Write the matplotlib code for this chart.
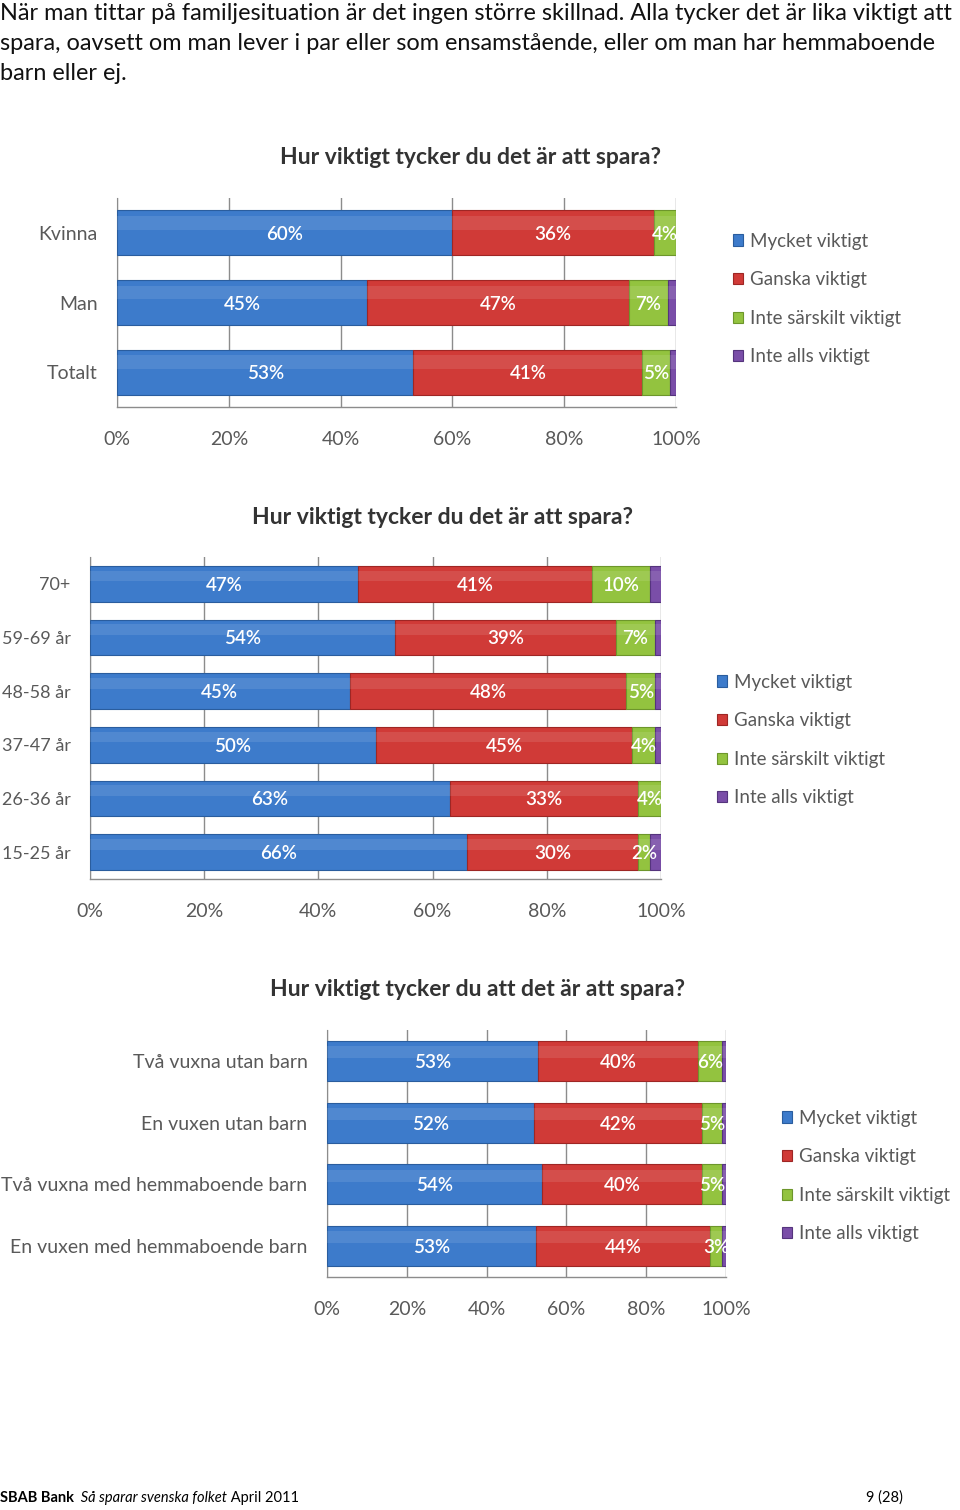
import matplotlib
matplotlib.use("Agg")
import matplotlib.pyplot as plt
import numpy as np

W, H = 960, 1510

# --- data -----------------------------------------------------------------
series = ["Mycket viktigt", "Ganska viktigt", "Inte särskilt viktigt", "Inte alls viktigt"]
colors = ["#3d7bcb", "#d03a37", "#93c33f", "#7a4ea8"]
edges = ["#2a5d9e", "#9e2624", "#6d962b", "#55347d"]

kon_cats = ["Kvinna", "Man", "Totalt"]
kon_mycket = [60, 45, 53]
kon_ganska = [36, 47, 41]
kon_inte_sarskilt = [4, 7, 5]
kon_inte_alls = [0, 1.5, 1]

alder_cats = ["70+", "59-69 år", "48-58 år", "37-47 år", "26-36 år", "15-25 år"]
alder_mycket = [47, 54, 45, 50, 63, 66]
alder_ganska = [41, 39, 48, 45, 33, 30]
alder_inte_sarskilt = [10, 7, 5, 4, 4, 2]
alder_inte_alls = [2, 1, 1, 1, 0, 2]

hushall_cats = ["Två vuxna utan barn", "En vuxen utan barn",
                "Två vuxna med hemmaboende barn", "En vuxen med hemmaboende barn"]
hushall_mycket = [53, 52, 54, 53]
hushall_ganska = [40, 42, 40, 44]
hushall_inte_sarskilt = [6, 5, 5, 3]
hushall_inte_alls = [1, 1, 1, 1]

ticks = [0, 20, 40, 60, 80, 100]
tick_labels = ["0%", "20%", "40%", "60%", "80%", "100%"]

title1 = "Hur viktigt tycker du det är att spara?"
title3 = "Hur viktigt tycker du att det är att spara?"

intro = ["När man tittar på familjesituation är det ingen större skillnad. Alla tycker det är lika viktigt att",
         "spara, oavsett om man lever i par eller som ensamstående, eller om man har hemmaboende",
         "barn eller ej."]

FONT = "Lato"
GREY = "#595959"


def px_axes(fig, left, top, right, bottom):
    return fig.add_axes([left / W, 1 - bottom / H, (right - left) / W, (bottom - top) / H])


def stacked_chart(fig, box, cats, rows, bar_h, title, title_xy, legend_xy, cat_size=14):
    ax = px_axes(fig, *box)
    data = np.array(rows, dtype=float).T          # cats x series
    data = data / data.sum(axis=1, keepdims=True) * 100
    y = np.arange(len(cats))
    left = np.zeros(len(cats))
    handles = []
    for k in range(data.shape[1]):
        vals = data[:, k]
        b = ax.barh(y, vals, left=left, height=bar_h, color=colors[k],
                    edgecolor=edges[k], linewidth=0.8, zorder=3, label=series[k])
        # soft highlight on top half, like the original 3D bars
        ax.barh(y - bar_h * 0.22, vals, left=left, height=bar_h * 0.3,
                color="white", alpha=0.10, linewidth=0, zorder=4)
        handles.append(b)
        if k < 3:
            raw = np.array(rows[k], dtype=float)
            for yi, l, v, r in zip(y, left, vals, raw):
                if r >= 1:
                    ax.text(l + v / 2, yi, f"{r:.0f}%", ha="center", va="center_baseline",
                            color="white", fontsize=13.5, fontweight="semibold",
                            family=FONT, zorder=5)
        left = left + vals

    ax.set_xlim(0, 100)
    ax.set_ylim(len(cats) - 0.5, -0.5)
    ax.set_xticks(ticks)
    ax.set_xticklabels(tick_labels, family=FONT, fontsize=14, color=GREY)
    ax.set_yticks(y)
    ax.set_yticklabels(cats, family=FONT, fontsize=cat_size, color=GREY)
    ax.tick_params(axis="x", length=0, pad=17)
    ax.tick_params(axis="y", length=0, pad=14)
    ax.grid(axis="x", color="#8c8c8c", linewidth=1, zorder=0)
    for s in ["top", "right"]:
        ax.spines[s].set_visible(False)
    for s in ["left", "bottom"]:
        ax.spines[s].set_color("#8c8c8c")
    ax.spines["bottom"].set_linewidth(1)

    fig.text(title_xy[0] / W, 1 - title_xy[1] / H, title, ha="center", va="center",
             family=FONT, fontsize=16.5, fontweight="bold", color="#333333")

    fig.legend(handles, series, loc="center left",
               bbox_to_anchor=(legend_xy[0] / W, 1 - legend_xy[1] / H),
               frameon=False, borderpad=0, borderaxespad=0,
               handlelength=0.55, handleheight=0.55, handletextpad=0.35,
               labelspacing=1.15,
               prop={"family": FONT, "size": 13.5}, labelcolor=GREY)
    return ax


fig = plt.figure(figsize=(W / 100, H / 100), dpi=100)

for i, line in enumerate(intro):
    fig.text(0.0, 1 - (13 + 30 * i) / H, line, ha="left", va="center",
             family=FONT, fontsize=16.9, color="#111111")

stacked_chart(fig, (117, 198, 676, 407), kon_cats,
              [kon_mycket, kon_ganska, kon_inte_sarskilt, kon_inte_alls],
              0.65, title1, (470, 158), (733, 299))

stacked_chart(fig, (90, 557, 661, 879), alder_cats,
              [alder_mycket, alder_ganska, alder_inte_sarskilt, alder_inte_alls],
              0.67, title1, (443, 517), (717, 740), cat_size=13)

stacked_chart(fig, (327, 1030, 726, 1277), hushall_cats,
              [hushall_mycket, hushall_ganska, hushall_inte_sarskilt, hushall_inte_alls],
              0.65, title3, (477, 989), (782, 1176))

# footer
t1 = fig.text(0.0, 1 - 1498 / H, "SBAB Bank", ha="left", va="center",
              family=FONT, fontsize=10.5, fontweight="bold", color="black")
ann2 = plt.annotate("  Så sparar svenska folket", xy=(1, 0), xycoords=t1, va="bottom",
                    family=FONT, fontsize=10.5, style="italic", color="black",
                    annotation_clip=False)
plt.annotate(" April 2011", xy=(1, 0), xycoords=ann2, va="bottom",
             family=FONT, fontsize=10.5, color="black", annotation_clip=False)
fig.text(903 / W, 1 - 1498 / H, "9 (28)", ha="right", va="center",
         family=FONT, fontsize=10.5, color="black")

fig.savefig("out.png", dpi=100)
